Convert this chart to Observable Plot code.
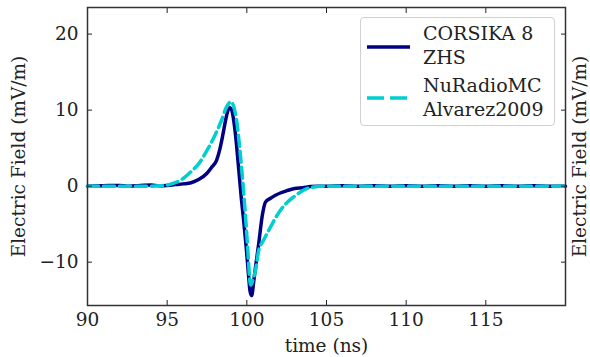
<!DOCTYPE html>
<html>
<head>
<meta charset="utf-8">
<script src="https://cdn.jsdelivr.net/npm/d3@7"></script>
<script src="https://cdn.jsdelivr.net/npm/@observablehq/plot@0.6"></script>
<style>
  html, body { margin: 0; padding: 0; background: #fff; }
  #wrap { position: relative; width: 590px; height: 357px; overflow: hidden; }
  .legend {
    position: absolute; left: 360px; top: 17px; width: 195px; height: 109px;
    border: 1px solid #d0d0d0; border-radius: 4px; background: rgba(255,255,255,0.85);
    font-family: "DejaVu Serif", serif; font-size: 19px; color: #222; box-sizing: border-box;
  }
  .legend .item { position: absolute; left: 62px; line-height: 24px; }
  .legend svg { position: absolute; left: 0; top: 0; }
</style>
</head>
<body>
<div id="wrap"></div>
<script>
// CORSIKA 8 ZHS (navy, solid)
const corsikaTime = [90, 91, 92, 92.5, 93, 94, 94.5, 95, 95.5, 96, 96.5, 97, 97.5, 97.8, 98.1, 98.3, 98.5, 98.7, 98.9, 99.05, 99.2, 99.35, 99.5, 99.65, 99.8, 99.95, 100.1, 100.2, 100.3, 100.44, 100.55, 100.75, 100.96, 101.17, 101.49, 101.8, 102.1, 102.5, 103, 103.5, 104, 104.5, 105, 106, 107, 108, 109, 110, 111, 112, 113, 114, 115, 116, 117, 118, 119, 120];
const corsikaField = [0, 0.05, 0.1, 0, 0.05, 0.15, 0.05, 0.1, 0.2, 0.3, 0.45, 0.9, 1.7, 2.5, 3.4, 4.8, 6.8, 9.0, 10.35, 10.0, 8.3, 5.5, 2.0, -1.5, -4.5, -7.8, -11.5, -13.8, -14.4, -12.4, -10.6, -7.5, -4.0, -2.1, -1.6, -1.2, -0.9, -0.6, -0.3, -0.2, -0.05, 0, 0, 0.05, 0, 0.05, 0, 0.05, 0, 0.05, 0, 0.05, 0, 0.05, 0, 0.05, 0, 0];

// NuRadioMC Alvarez2009 (turquoise, dashed)
const nuradioTime = [90, 92, 94, 94.5, 95, 95.5, 96, 96.5, 97, 97.5, 98, 98.4, 98.7, 99.0, 99.2, 99.4, 99.6, 99.75, 99.9, 100.05, 100.2, 100.25, 100.4, 100.55, 100.75, 101.0, 101.25, 101.49, 102.1, 102.5, 102.95, 103.5, 103.8, 104.2, 104.6, 105, 110, 115, 120];
const nuradioField = [0, 0, 0, 0.05, 0.15, 0.45, 1.0, 1.9, 3.0, 4.7, 6.7, 8.6, 10.3, 11.1, 10.3, 8.0, 4.0, 0.5, -3.5, -8.0, -12.6, -13.0, -12.2, -11.0, -8.4, -7.3, -6.3, -5.35, -3.2, -2.2, -1.4, -0.6, -0.3, -0.1, 0, 0, 0, 0, 0];

const xTicks = [90, 95, 100, 105, 110, 115];
const yTicks = [-10, 0, 10, 20];
const xDomain = [90, 120];
const yDomain = [-15.7, 23.5];

const corsika = corsikaTime.map((t, i) => ({t, v: corsikaField[i]}));
const nuradio = nuradioTime.map((t, i) => ({t, v: nuradioField[i]}));

const NAVY = "#000080";
const TURQ = "#00ced1";

const chart = Plot.plot({
  width: 590,
  height: 357,
  marginLeft: 87,
  marginRight: 25,
  marginTop: 7,
  marginBottom: 52,
  style: {fontFamily: "DejaVu Serif, serif", fontSize: "18.5px", color: "#222", background: "#fff"},
  x: {domain: xDomain},
  y: {domain: yDomain},
  marks: [
    Plot.line(corsika, {x: "t", y: "v", stroke: NAVY, strokeWidth: 3.5, curve: "monotone-x"}),
    Plot.line(nuradio, {x: "t", y: "v", stroke: TURQ, strokeWidth: 3.5, strokeDasharray: "11,5", curve: "monotone-x"}),
    Plot.axisX({anchor: "bottom", ticks: xTicks, tickSize: -5, tickPadding: 12, label: "time (ns)", labelAnchor: "center", labelArrow: "none", labelOffset: 46}),
    Plot.axisX({anchor: "top", ticks: xTicks, tickSize: -5, tickFormat: () => "", label: null}),
    Plot.axisY({anchor: "left", ticks: yTicks, tickSize: -5, tickPadding: 14, tickFormat: d => d < 0 ? "\u2212" + Math.abs(d) : String(d), label: "Electric Field (mV/m)", labelAnchor: "center", labelArrow: "none", labelOffset: 76}),
    Plot.axisY({anchor: "right", ticks: yTicks, tickSize: -5, tickFormat: () => "", label: "Electric Field (mV/m)", labelAnchor: "center", labelArrow: "none", labelOffset: 20}),
    Plot.frame({stroke: "#333", strokeWidth: 1.5})
  ]
});

const wrap = document.getElementById("wrap");
wrap.appendChild(chart);

const legend = document.createElement("div");
legend.className = "legend";
legend.innerHTML = `
  <svg width="195" height="109">
    <line x1="6" x2="49" y1="29" y2="29" stroke="${NAVY}" stroke-width="3.5"/>
    <line x1="6" x2="49" y1="80" y2="80" stroke="${TURQ}" stroke-width="3.5" stroke-dasharray="17,6"/>
  </svg>
  <div class="item" style="top:3px">CORSIKA 8<br>ZHS</div>
  <div class="item" style="top:55px">NuRadioMC<br>Alvarez2009</div>`;
wrap.appendChild(legend);
</script>
</body>
</html>
